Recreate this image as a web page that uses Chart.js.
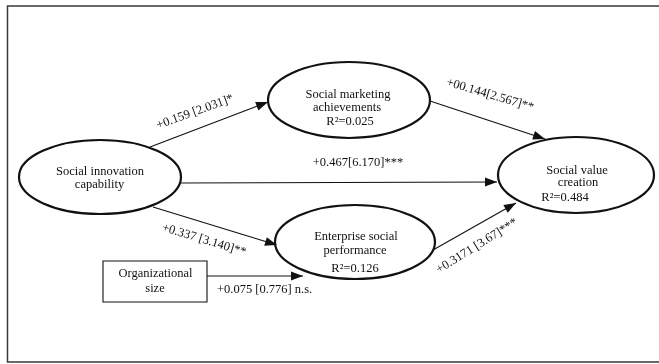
<!DOCTYPE html>
<html>
<head>
<meta charset="utf-8">
<script src="https://cdn.jsdelivr.net/npm/chart.js@4/dist/chart.umd.min.js"></script>
<style>
  html, body { margin: 0; padding: 0; background: #fff; }
  #wrap { position: relative; width: 659px; height: 364px; }
</style>
</head>
<body>
<div id="wrap"><canvas id="c"></canvas></div>
<script>
// ---- Model content ----
const constructNames = [
  ['Social innovation', 'capability'],
  ['Social marketing', 'achievements'],
  ['Social value', 'creation'],
  ['Enterprise social', 'performance'],
  ['Organizational', 'size']
];
const rSquared = [null, '0.025', '0.484', '0.126', null];

// Path estimates, t-statistics and significance marks
const coefficients = ['+0.159', '+00.144', '+0.467', '+0.337', '+0.075', '+0.3171'];
const tStatistics  = ['2.031', '2.567', '6.170', '3.140', '0.776', '3.67'];
const significance = ['*', '**', '***', '**', 'n.s.', '***'];
const coefGap      = [' ', '', '', ' ', ' ', ' '];
const sigGap       = ['', '', '', '', ' ', ''];

// ---- Diagram layout (canvas units) ----
// node shapes: ellipse = latent construct, box = observed control
const nodeShape = ['ellipse', 'ellipse', 'ellipse', 'ellipse', 'box'];
const nodeCx = [100, 349, 576, 355, 155];
const nodeCy = [177, 100, 175, 242, 281.5];
const nodeRx = [81, 81, 78, 80, 52];
const nodeRy = [37, 38, 38, 37, 20.5];
const nameLineY = [[172, 185], [95, 108], [171, 183], [237, 251], [274, 289]];
const nameLineX = [[100, 99.5], [348, 347], [577, 578], [356, 355], [155.5, 155]];
const rSqPos = [null, [350, 122], [565, 198], [355, 269], null];

// path routes: start and arrow tip
const pathStart = [[150, 147], [430, 101], [181, 183], [153, 207], [207, 276], [433, 250]];
const pathEnd   = [[268, 102], [545, 139], [497, 182], [277, 245], [303, 276], [516, 203]];
// label placement: center point, rotation in degrees, alignment
const labelPos   = [[195, 112], [490, 95], [358, 163], [204, 240], [217, 290], [477, 246]];
const labelAngle = [-20, 16.5, 0, 17, 0, -32];
const labelAlign = ['center', 'center', 'center', 'center', 'left', 'center'];

const pathLabels = coefficients.map((c, i) =>
  c + coefGap[i] + '[' + tStatistics[i] + ']' + sigGap[i] + significance[i]);

const FONT = '"Liberation Serif", "Times New Roman", serif';
const INK = '#111';

const pathDatasets = pathStart.map((s, i) => ({
  label: pathLabels[i],
  data: [{ x: s[0], y: s[1] }, { x: pathEnd[i][0], y: pathEnd[i][1] }],
  showLine: true,
  borderColor: INK,
  borderWidth: 1.1,
  pointRadius: 0,
  fill: false
}));

// Draws frame, construct shapes, arrowheads and all text
const diagramPlugin = {
  id: 'pathDiagram',
  afterDatasetsDraw(chart) {
    const ctx = chart.ctx;
    const xs = chart.scales.x, ys = chart.scales.y;
    const px = v => xs.getPixelForValue(v);
    const py = v => ys.getPixelForValue(v);
    ctx.save();

    // outer frame
    ctx.strokeStyle = '#3a3a3a';
    ctx.lineWidth = 1.5;
    ctx.beginPath();
    ctx.moveTo(px(700), py(6));
    ctx.lineTo(px(7.5), py(6));
    ctx.lineTo(px(7.5), py(362));
    ctx.lineTo(px(700), py(362));
    ctx.stroke();

    // constructs
    nodeShape.forEach((shape, i) => {
      const cx = px(nodeCx[i]), cy = py(nodeCy[i]);
      const rx = px(nodeCx[i] + nodeRx[i]) - cx;
      const ry = Math.abs(py(nodeCy[i] + nodeRy[i]) - cy);
      ctx.beginPath();
      if (shape === 'ellipse') {
        ctx.lineWidth = 2.2;
        ctx.ellipse(cx, cy, rx, ry, 0, 0, Math.PI * 2);
      } else {
        ctx.lineWidth = 1.1;
        ctx.rect(cx - rx, cy - ry, rx * 2, ry * 2);
      }
      ctx.fillStyle = '#fff';
      ctx.fill();
      ctx.strokeStyle = INK;
      ctx.stroke();

      ctx.fillStyle = INK;
      ctx.font = '12.5px ' + FONT;
      ctx.textAlign = 'center';
      ctx.textBaseline = 'middle';
      constructNames[i].forEach((line, j) => {
        ctx.fillText(line, px(nameLineX[i][j]), py(nameLineY[i][j]));
      });
      if (rSquared[i] !== null) {
        ctx.fillText('R\u00B2=' + rSquared[i], px(rSqPos[i][0]), py(rSqPos[i][1]));
      }
    });

    // arrowheads
    chart.data.datasets.forEach((ds, i) => {
      const pts = chart.getDatasetMeta(i).data;
      const a = pts[pts.length - 2], b = pts[pts.length - 1];
      const ang = Math.atan2(b.y - a.y, b.x - a.x);
      const len = 12, half = 4.5;
      ctx.save();
      ctx.translate(b.x, b.y);
      ctx.rotate(ang);
      ctx.beginPath();
      ctx.moveTo(0, 0);
      ctx.lineTo(-len, -half);
      ctx.lineTo(-len, half);
      ctx.closePath();
      ctx.fillStyle = INK;
      ctx.fill();
      ctx.restore();
    });

    // path labels
    ctx.fillStyle = INK;
    ctx.font = '12.5px ' + FONT;
    ctx.textBaseline = 'middle';
    pathLabels.forEach((txt, i) => {
      ctx.save();
      ctx.translate(px(labelPos[i][0]), py(labelPos[i][1]));
      ctx.rotate(labelAngle[i] * Math.PI / 180);
      ctx.textAlign = labelAlign[i];
      ctx.fillText(txt, 0, 0);
      ctx.restore();
    });

    ctx.restore();
  }
};

new Chart(document.getElementById('c'), {
  type: 'scatter',
  data: { datasets: pathDatasets },
  options: {
    responsive: true,
    maintainAspectRatio: false,
    animation: false,
    layout: { padding: 0 },
    plugins: { legend: { display: false }, tooltip: { enabled: false } },
    scales: {
      x: { type: 'linear', min: 0, max: 659, display: false },
      y: { type: 'linear', min: 0, max: 364, reverse: true, display: false }
    }
  },
  plugins: [diagramPlugin]
});
</script>
</body>
</html>
